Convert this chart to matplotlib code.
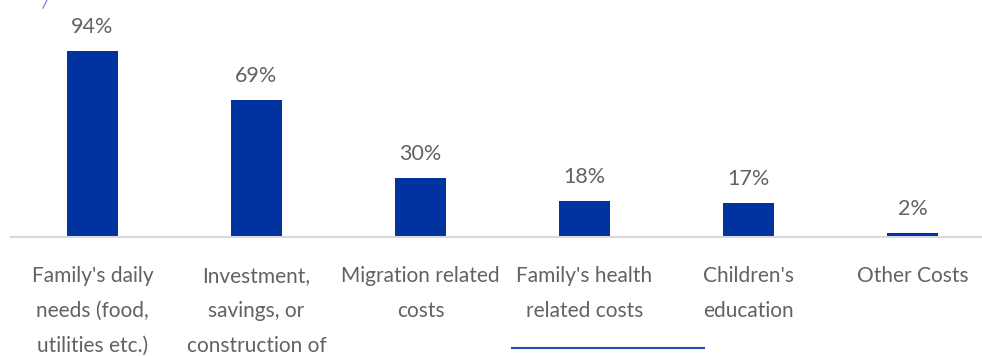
import matplotlib.pyplot as plt
from matplotlib.lines import Line2D

categories = [
    "Family's daily\nneeds (food,\nutilities etc.)",
    "Investment,\nsavings, or\nconstruction of",
    "Migration related\ncosts",
    "Family's health\nrelated costs",
    "Children's\neducation",
    "Other Costs",
]
shares = [94, 69, 30, 18, 17, 2]

bar_color = "#0033a0"
text_color = "#626262"

plt.rcParams['font.family'] = ['Lato', 'DejaVu Sans']

fig = plt.figure(figsize=(9.82, 3.56), dpi=100)
ax = fig.add_axes([10.5 / 982, 119 / 356, 984 / 982, 198 / 356])

x = range(len(shares))
bars = ax.bar(x, shares, width=0.31, color=bar_color)

for rect, v in zip(bars, shares):
    ax.annotate(f"{v}%", (rect.get_x() + rect.get_width() / 2, v),
                xytext=(0, 10), textcoords='offset points',
                ha='center', va='bottom', fontsize=15.5, color=text_color)

ax.set_xlim(-0.5, 5.5)
ax.set_ylim(0, 100)
ax.set_xticks(list(x))
ax.set_xticklabels(categories, fontsize=15, color=text_color,
                   linespacing=1.93)
ax.tick_params(axis='x', length=0, pad=21)
ax.set_yticks([])
for side in ['top', 'right', 'left']:
    ax.spines[side].set_visible(False)
ax.spines['bottom'].set_color('#d9d9d9')
ax.spines['bottom'].set_linewidth(1.5)

# stray slide strokes
fig.add_artist(Line2D([512 / 982, 704 / 982], [1 - 348 / 356, 1 - 348 / 356],
                      color='#1f4fb4', lw=1.5))
fig.add_artist(Line2D([43 / 982, 47 / 982], [1 - 8 / 356, 1 - 0 / 356],
                      color='#7b8fe0', lw=1))

fig.savefig('out.png', dpi=100)
